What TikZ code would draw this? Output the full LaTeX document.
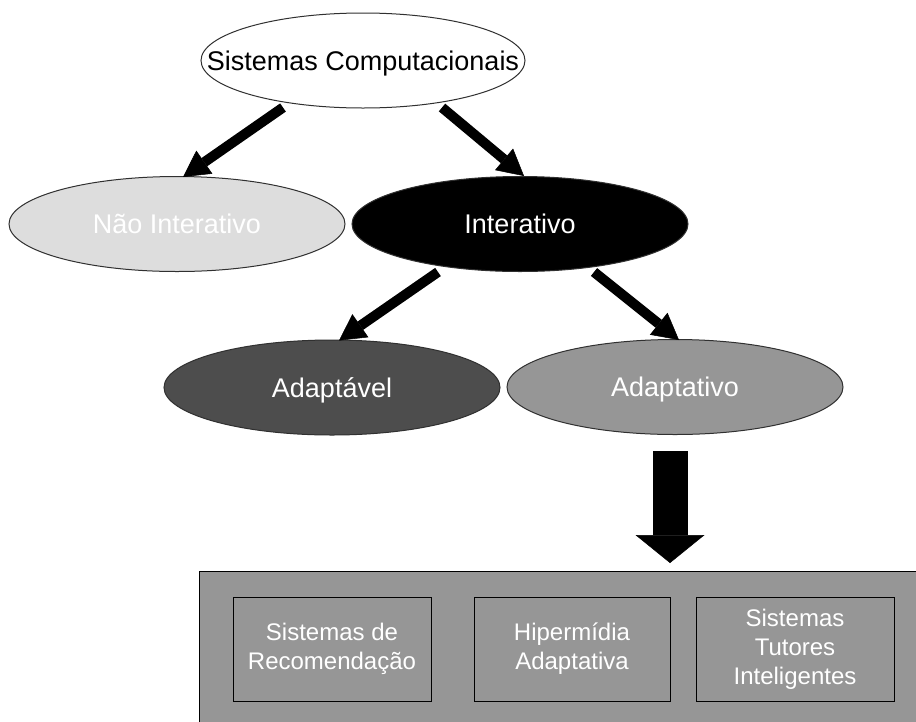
\documentclass[tikz,border=0pt]{standalone}
\usepackage{fontspec}
\setmainfont{Liberation Sans}
\usetikzlibrary{shapes.geometric,arrows.meta,calc}
\definecolor{lightg}{HTML}{DDDDDD}
\definecolor{midg}{HTML}{969696}
\definecolor{darkg}{HTML}{4D4D4D}
\definecolor{edgeg}{HTML}{303030}
\begin{document}
\begin{tikzpicture}[x=1pt,y=-1pt,
  oval/.style={ellipse, draw=edgeg, line width=1pt, minimum width=336pt, minimum height=95pt, inner sep=0pt},
  ovaltext/.style={font=\fontsize{27}{32}\selectfont, text height=19pt, text depth=0pt, inner sep=0pt},
  subbox/.style={draw=black, line width=1pt, fill=midg, minimum width=198pt, minimum height=104pt, inner sep=0pt, align=center, text=white, font=\fontsize{24}{29}\selectfont},
  link/.style={line width=10pt, -{Triangle[width=28pt,length=26pt,line width=0.5pt]}},
  bigarrow/.style={line width=35pt, -{Triangle[width=69pt,length=28pt,line width=0.5pt]}}
]
\fill[white] (0,0) rectangle (916,721);
\useasboundingbox (0,0) rectangle (916,721);

\node[oval, minimum width=324pt, fill=white, label={[ovaltext, text=black]center:Sistemas Computacionais}] (sc) at (363,60.5) {};
\node[oval, fill=lightg, label={[ovaltext, text=white]center:Não Interativo}] (ni) at (177,224) {};
\node[oval, fill=black, label={[ovaltext, text=white]center:Interativo}] (int) at (520,224) {};
\node[oval, fill=darkg, label={[ovaltext, text=white]center:Adaptável}] (ad1) at (332,387.5) {};
\node[oval, fill=midg, label={[ovaltext, text=white]center:Adaptativo}] (ad2) at (675,387) {};

\node[draw=black, line width=1pt, fill=midg, minimum width=730pt, minimum height=170pt, inner sep=0pt, anchor=north west] (grp) at (199,571) {};
\node[subbox] (b1) at (332,649) {Sistemas de\\Recomendação};
\node[subbox, minimum width=196pt] (b2) at (572,649) {Hipermídia\\Adaptativa};
\node[subbox] (b3) at (795,649) {Sistemas\\Tutores\\Inteligentes};

\draw[link] ($(sc.center)+(-80,47)$) -- ($(ni.center)+(6,-47)$);
\draw[link] ($(sc.center)+(79,47)$) -- ($(int.center)+(4,-48)$);
\draw[link] ($(int.center)+(-82,48)$) -- ($(ad1.center)+(7,-47)$);
\draw[link] ($(int.center)+(74,48)$) -- ($(ad2.center)+(4,-47)$);
\draw[bigarrow] ($(ad2.south)+(-5,16)$) -- ($(ad2.south)+(-5,128)$);
\end{tikzpicture}
\end{document}
